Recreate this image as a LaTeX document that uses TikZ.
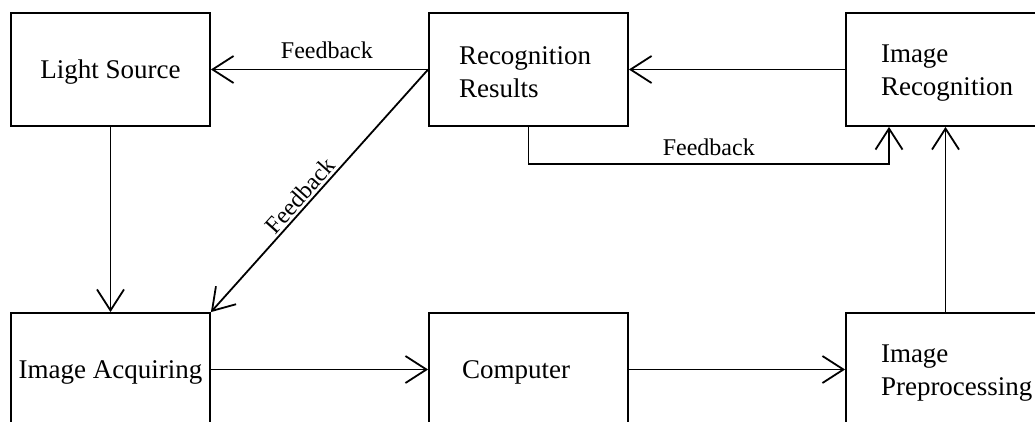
\documentclass[tikz,border=0pt]{standalone}
\usepackage{fontspec}
\setmainfont{Liberation Serif}
\usetikzlibrary{arrows.meta}
\begin{document}
\begin{tikzpicture}[x=1pt,y=-1pt,
  box/.style={draw, line width=1.8pt, minimum width=199pt, minimum height=113pt, inner ysep=0pt, font=\fontsize{27}{33}\selectfont},
  arr/.style={line width=1.8pt, -{Straight Barb[length=21pt,width=27pt]}},
  fb/.style={font=\fontsize{24}{28}\selectfont, inner sep=0pt}]
\useasboundingbox (0,0) rectangle (1035,421);
\clip (0,0) rectangle (1035,421);
\fill[white] (0,0) rectangle (1035,421);
\node[box, text depth=0pt] (ls) at (110.5,69.5) {Light Source};
\node[box, align=left, inner xsep=30pt, text width=139pt, text depth=27pt] (rr) at (528.5,69.5) {\mbox{Recognition}\\Results};
\node[box, align=left, inner xsep=35pt, text width=129pt, text depth=32pt] (ir) at (945.5,69.5) {Image\\\mbox{Recognition}};
\node[box, text depth=0pt] (ia) at (110.5,369.5) {Image Acquiring};
\node[box, align=left, inner xsep=33pt, text width=133pt, text depth=0pt] (co) at (528.5,369.5) {Computer};
\node[box, align=left, inner xsep=35pt, text width=129pt, text depth=32pt] (ip) at (945.5,369.5) {Image\\\mbox{Preprocessing}};
\draw[arr] (rr.west) -- (ls.east) node[fb, pos=0.466, above=10pt] {Feedback};
\draw[arr] (ir.west) -- (rr.east);
\draw[arr] (rr.south) -- ++(0,37) -| ([xshift=-56.5pt]ir.south) node[fb, pos=0.25, above=7pt] {Feedback};
\draw[arr] (rr.west) -- (ia.north east) node[fb, pos=0.55, sloped, above=2pt] {Feedback};
\draw[arr] (ls.south) -- (ia.north);
\draw[arr] (ia.east) -- (co.west);
\draw[arr] (co.east) -- (ip.west);
\draw[arr] (ip.north) -- (ir.south);
\end{tikzpicture}
\end{document}
